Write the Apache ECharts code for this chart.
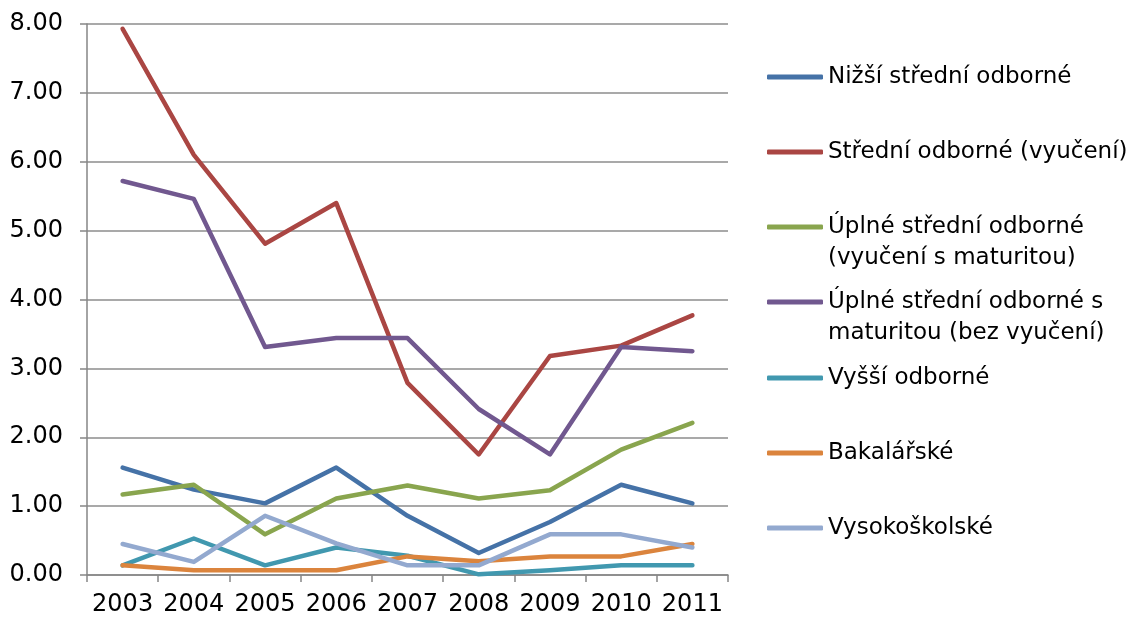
<!DOCTYPE html>
<html>
<head>
<meta charset="utf-8">
<script src="https://cdn.jsdelivr.net/npm/echarts@6/dist/echarts.min.js"></script>
<style>
html,body{margin:0;padding:0;background:#fff;}
#c{width:1138px;height:617px;}
</style>
</head>
<body>
<div id="c"></div>
<script>
const categories = ['2003','2004','2005','2006','2007','2008','2009','2010','2011'];
const seriesNames = [
  'Nižší střední odborné',
  'Střední odborné (vyučení)',
  'Úplné střední odborné\n(vyučení s maturitou)',
  'Úplné střední odborné s\nmaturitou (bez vyučení)',
  'Vyšší odborné',
  'Bakalářské',
  'Vysokoškolské'
];
const nizsiStredni = [1.56, 1.24, 1.04, 1.56, 0.86, 0.32, 0.77, 1.31, 1.04];
const stredniVyuceni = [7.93, 6.10, 4.81, 5.40, 2.79, 1.75, 3.18, 3.33, 3.77];
const uplneSMaturitou = [1.17, 1.31, 0.59, 1.11, 1.30, 1.11, 1.23, 1.82, 2.21];
const uplneBezVyuceni = [5.72, 5.46, 3.31, 3.44, 3.44, 2.41, 1.75, 3.31, 3.25];
const vyssiOdborne = [0.14, 0.53, 0.14, 0.40, 0.28, 0.01, 0.07, 0.14, 0.14];
const bakalarske = [0.14, 0.07, 0.07, 0.07, 0.27, 0.20, 0.27, 0.27, 0.45];
const vysokoskolske = [0.45, 0.19, 0.86, 0.46, 0.14, 0.14, 0.59, 0.59, 0.40];
const yTicks = ['0.00','1.00','2.00','3.00','4.00','5.00','6.00','7.00','8.00'];

const allData = [nizsiStredni, stredniVyuceni, uplneSMaturitou, uplneBezVyuceni, vyssiOdborne, bakalarske, vysokoskolske];
const colors = ['#4572A7','#AA4643','#89A54E','#71588F','#4198AF','#DB843D','#93A9CF'];
const FONT = 'DejaVu Sans';
const legendCenters = [76, 151, 226, 301, 377, 452, 527];

const legends = seriesNames.map((n, i) => {
  const two = n.indexOf('\n') >= 0;
  return {
    left: 767,
    top: legendCenters[i] - (two ? 46.5 : 15.5) + 1,
    padding: 0,
    orient: 'vertical',
    icon: 'roundRect',
    itemWidth: 56,
    itemHeight: 5,
    selectedMode: false,
    data: [n],
    formatter: two ? (name) => '{e| }\n' + name : undefined,
    textStyle: {
      fontFamily: FONT, fontSize: 23, color: '#000', lineHeight: 31,
      rich: {e: {fontFamily: FONT, fontSize: 23, lineHeight: 31}}
    }
  };
});

const chart = echarts.init(document.getElementById('c'), null, {renderer: 'canvas'});
chart.setOption({
  animation: false,
  backgroundColor: '#fff',
  color: colors,
  grid: {left: 87, right: 410, top: 24, bottom: 42, containLabel: false},
  legend: legends,
  xAxis: {
    type: 'category',
    data: categories,
    boundaryGap: true,
    axisLine: {show: true, lineStyle: {color: '#868686', width: 1.5}},
    axisTick: {show: true, length: 7, lineStyle: {color: '#868686', width: 1.5}},
    axisLabel: {fontFamily: FONT, fontSize: 24, color: '#000', margin: 18, interval: 0},
    splitLine: {show: false}
  },
  yAxis: {
    type: 'value',
    min: 0, max: 8, interval: 1,
    axisLine: {show: true, lineStyle: {color: '#868686', width: 1.5}},
    axisTick: {show: true, length: 7, lineStyle: {color: '#868686', width: 1.5}},
    axisLabel: {fontFamily: FONT, fontSize: 24, color: '#000', margin: 24,
      formatter: (v) => yTicks[Math.round(v)]},
    splitLine: {show: true, lineStyle: {color: '#8c8c8c', width: 1.5}}
  },
  series: seriesNames.map((n, i) => ({
    name: n,
    type: 'line',
    data: allData[i],
    symbol: 'none',
    lineStyle: {width: 4.5, color: colors[i], cap: 'round', join: 'round'},
    itemStyle: {color: colors[i]}
  }))
});
</script>
</body>
</html>
